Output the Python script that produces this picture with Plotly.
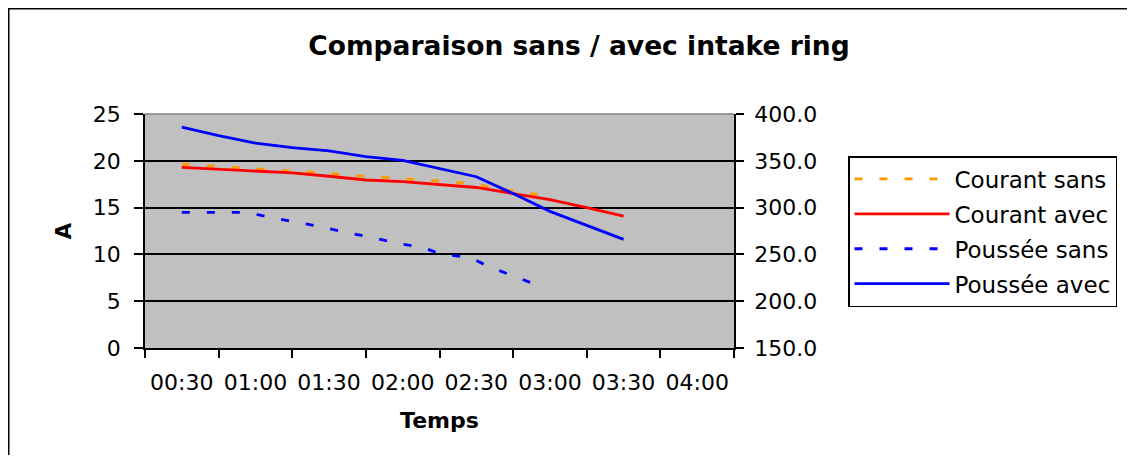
import plotly.graph_objects as go

# ---------------- data ----------------
tick_minutes = [30, 60, 90, 120, 150, 180, 210, 240]
tick_labels = ["00:30", "01:00", "01:30", "02:00", "02:30", "03:00", "03:30", "04:00"]
boundary_minutes = [15, 45, 75, 105, 135, 165, 195, 225, 255]

t_courant_sans = [30, 45, 60, 75, 90, 105, 120, 135, 150, 160, 170, 175]
courant_sans = [19.65, 19.4, 19.2, 18.9, 18.65, 18.35, 18.1, 17.85, 17.5, 16.95, 16.6, 16.4]

t_courant_avec = [30, 45, 60, 75, 90, 105, 120, 135, 150, 165, 180, 195, 210]
courant_avec = [19.3, 19.1, 18.9, 18.7, 18.35, 17.95, 17.78, 17.5, 17.15, 16.5, 15.85, 15.0, 14.1]

t_poussee_sans = [30, 45, 55, 60, 70, 80, 90, 100, 110, 120, 128, 135, 148, 155, 165, 176]
poussee_sans = [295, 295, 295, 293, 287.5, 283, 277.5, 272, 266.5, 261, 257.5, 251, 246, 237, 227, 216]

t_poussee_avec = [30, 45, 60, 75, 90, 105, 120, 135, 150, 165, 180, 195, 210]
poussee_avec = [386, 377, 369, 364, 360.5, 354.5, 350.5, 342, 333, 315, 296, 281, 266]

# ---------------- layout constants ----------------
OFF = 8                      # page body margin of the browser
W, H = 1135 - OFF, 463 - 2 * OFF
ML, MR, MT, MB = 137, 401, 106, 107
PW, PH = W - ML - MR, H - MT - MB
FONT = "DejaVu Sans"


def px_x(x):
    """window pixel x -> paper x"""
    return (x - OFF - ML) / PW


def px_y(y):
    """window pixel y -> paper y"""
    return (H - MB - (y - OFF)) / PH


dash = "8px,17px"
LW = 2.8
fig = go.Figure()
fig.add_trace(go.Scatter(x=t_courant_sans, y=courant_sans, name="Courant sans", mode="lines",
                         line=dict(color="#FF9900", width=LW, dash=dash), legendgroup="a"))
fig.add_trace(go.Scatter(x=t_courant_avec, y=courant_avec, name="Courant avec", mode="lines",
                         line=dict(color="#FF0000", width=LW), legendgroup="b"))
fig.add_trace(go.Scatter(x=t_poussee_sans, y=poussee_sans, name="Poussée sans", mode="lines",
                         line=dict(color="#0000FF", width=LW, dash=dash), yaxis="y2", legendgroup="c"))
fig.add_trace(go.Scatter(x=t_poussee_avec, y=poussee_avec, name="Poussée avec", mode="lines",
                         line=dict(color="#0000FF", width=LW), yaxis="y2", legendgroup="d"))

tickfont = dict(family=FONT, size=22, color="black")
fig.update_layout(
    width=W, height=H,
    margin=dict(l=ML, r=MR, t=MT, b=MB, autoexpand=False),
    paper_bgcolor="white", plot_bgcolor="#C0C0C0",
    showlegend=True,
    title=dict(text="Comparaison sans / avec intake ring", x=(579 - OFF) / W, xanchor="center",
               xref="container", y=1 - (46 - OFF) / H, yanchor="middle", yref="container",
               font=dict(family=FONT, size=26.5, color="black", weight="bold")),
    xaxis=dict(range=[15, 255], tickmode="array", tickvals=tick_minutes, ticktext=tick_labels,
               ticks="", showgrid=False, zeroline=False, showline=True, linecolor="black",
               linewidth=1.5, tickfont=tickfont, ticklabelstandoff=14,
               minor=dict(tickmode="array", tickvals=boundary_minutes, ticks="outside", ticklen=8,
                          tickcolor="black", tickwidth=1.5, showgrid=False),
               title=dict(text="Temps", standoff=18,
                          font=dict(family=FONT, size=22, color="black", weight="bold"))),
    yaxis=dict(range=[0, 25], tickmode="array", tickvals=[0, 5, 10, 15, 20, 25],
               ticks="outside", ticklen=9, tickcolor="black", tickwidth=1.5,
               showgrid=True, gridcolor="black", gridwidth=1.5, zeroline=False,
               showline=True, linecolor="black", linewidth=1.5, tickfont=tickfont,
               ticklabelstandoff=9,
               title=dict(text="A", standoff=15,
                          font=dict(family=FONT, size=21, color="black", weight="bold"))),
    yaxis2=dict(range=[150, 400], tickmode="array", tickvals=[150, 200, 250, 300, 350, 400],
                tickformat=".1f", overlaying="y", side="right", ticks="outside", ticklen=8,
                tickcolor="black", tickwidth=1.5, showgrid=False, zeroline=False,
                showline=True, linecolor="black", linewidth=1.5, tickfont=tickfont,
                ticklabelstandoff=6),
    legend=dict(x=px_x(848), y=px_y(156), xanchor="left", yanchor="top",
                bordercolor="black", borderwidth=1.5, bgcolor="white",
                font=dict(family=FONT, size=23, color="black"),
                tracegroupgap=2, itemwidth=95, traceorder="grouped"),
    shapes=[
        dict(type="line", xref="paper", yref="paper", x0=0, x1=1, y0=1, y1=1,
             line=dict(color="#808080", width=1.5), layer="above"),
        dict(type="line", xref="paper", yref="paper", x0=px_x(8), x1=px_x(1140),
             y0=px_y(8.75), y1=px_y(8.75), line=dict(color="black", width=1.5)),
        dict(type="line", xref="paper", yref="paper", x0=px_x(8.75), x1=px_x(8.75),
             y0=px_y(8), y1=px_y(470), line=dict(color="black", width=1.5)),
    ],
)

fig.write_html("out.html")
